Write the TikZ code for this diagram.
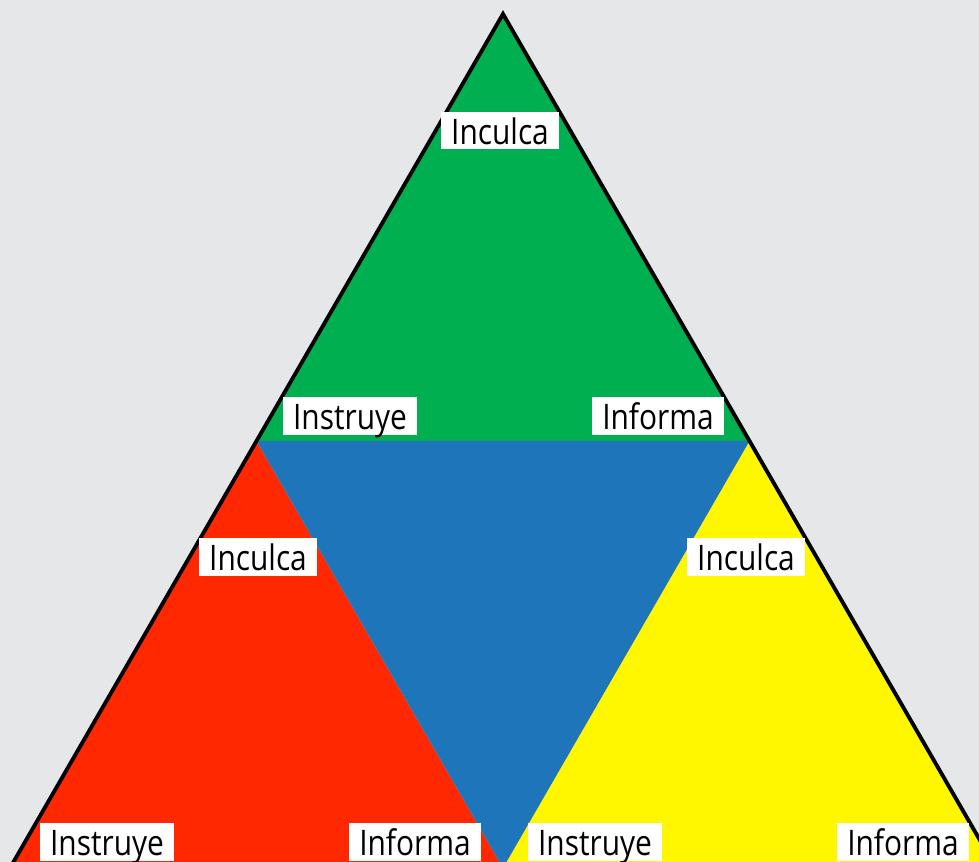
\documentclass[tikz,border=0pt]{standalone}
\usepackage{fontspec}
\setmainfont{Open Sans}[FakeStretch=0.85]

\definecolor{bggray}{HTML}{E6E7E9}
\definecolor{topgreen}{HTML}{00AF50}
\definecolor{midblue}{HTML}{1F75B9}
\definecolor{leftred}{HTML}{FF2800}
\definecolor{rightyellow}{HTML}{FFF700}

\begin{document}
\begin{tikzpicture}[x=0.01cm,y=-0.01cm,
    lbl/.style={fill=white, inner xsep=0.1cm, inner ysep=0pt,
        text height=0.32cm, text depth=0.05cm,
        font=\fontsize{10}{12}\selectfont}]
    % Background and frame
    \fill[bggray] (0,0) rectangle (979,862);
    \useasboundingbox (0,0) rectangle (979,862);
    \clip (0,0) rectangle (979,862);

    % Corners of the big triangle and midpoints of its sides
    \coordinate (top) at (503,14);
    \coordinate (left) at (10,868);
    \coordinate (right) at (996,868);
    \coordinate (midl) at (256.5,441);
    \coordinate (midr) at (749.5,441);
    \coordinate (midb) at (503,868);

    % The four small triangles
    \fill[topgreen] (top) -- (midl) -- (midr) -- cycle;
    \fill[leftred] (midl) -- (left) -- (midb) -- cycle;
    \fill[rightyellow] (midr) -- (midb) -- (right) -- cycle;
    \fill[midblue] (midl) -- (midr) -- (midb) -- cycle;

    % Outer sides
    \draw[line width=1.1pt, line join=miter] (left) -- (top) -- (right);

    % Labels in the green triangle
    \node[lbl] (gInc) at (500,131) {Inculca};
    \node[lbl] (gIns) at (350,416) {Instruye};
    \node[lbl] (gInf) at (658,416) {Informa};

    % Labels in the red triangle
    \node[lbl] (rInc) at (258,557) {Inculca};
    \node[lbl] (rIns) at (107,842) {Instruye};
    \node[lbl] (rInf) at (415,842) {Informa};

    % Labels in the yellow triangle
    \node[lbl] (yInc) at (746,557) {Inculca};
    \node[lbl] (yIns) at (595,842) {Instruye};
    \node[lbl] (yInf) at (903,842) {Informa};
\end{tikzpicture}
\end{document}
